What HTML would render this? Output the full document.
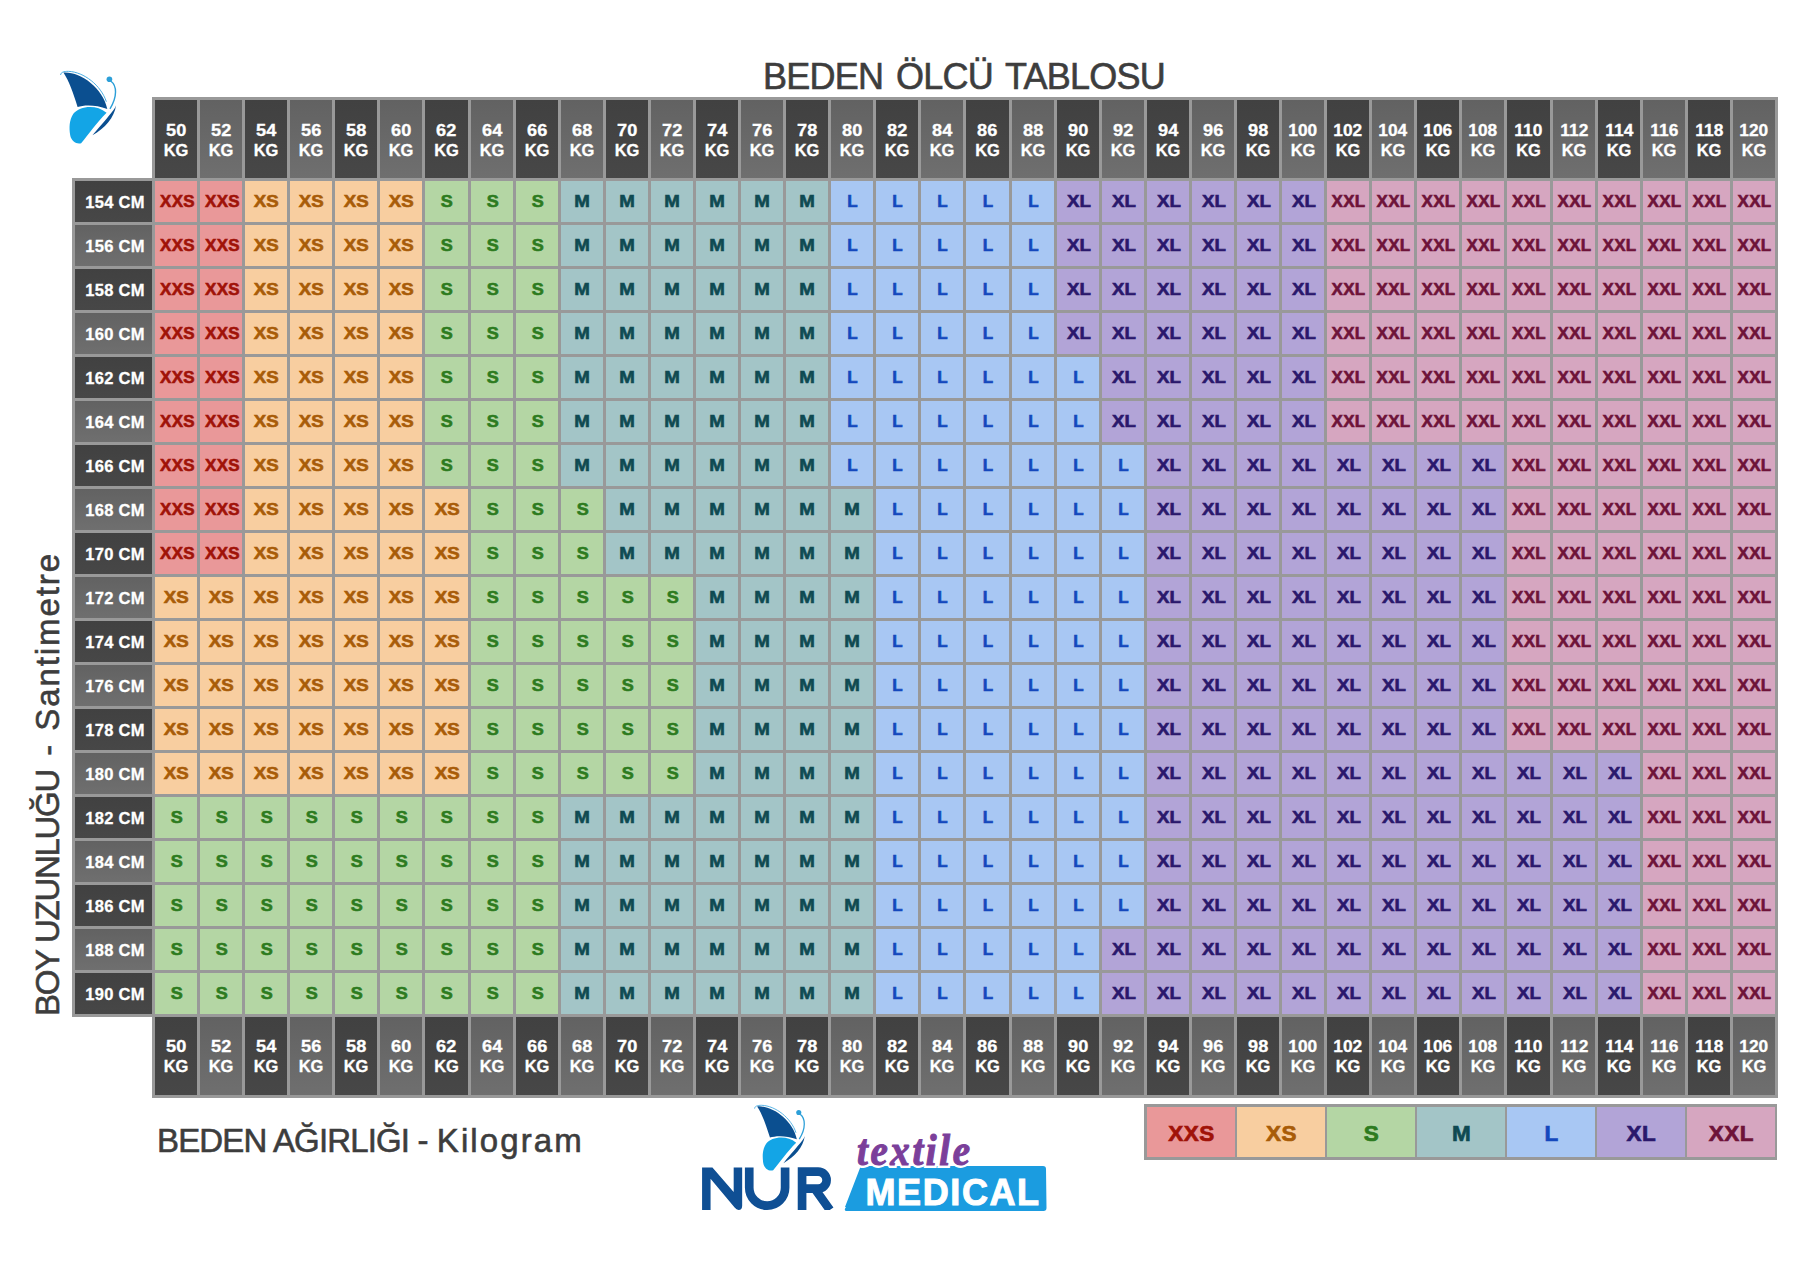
<!DOCTYPE html>
<html><head><meta charset="utf-8">
<style>
html,body{margin:0;padding:0;background:#fff;}
body{width:1800px;height:1272px;position:relative;overflow:hidden;font-family:"Liberation Sans",sans-serif;}
.g{position:absolute;background:#999999;}
.h{position:absolute;height:78px;box-sizing:border-box;padding-top:21px;color:#fff;font-weight:bold;font-size:16.5px;line-height:19.7px;-webkit-text-stroke:0.3px #fff;text-align:center;}
.h b{display:inline-block;transform:scaleX(1.1);font-weight:bold;}
.h b.w3{transform:scaleX(1.05);}
.hd{background:linear-gradient(#414141,#474747);}
.hm{background:linear-gradient(#626262,#6f6f6f);}
.rl{position:absolute;left:75px;width:77px;height:41px;line-height:42px;padding-left:3px;box-sizing:border-box;letter-spacing:0.3px;color:#fff;font-weight:bold;font-size:16.5px;-webkit-text-stroke:0.3px #fff;text-align:center;}
.c{position:absolute;height:41px;line-height:42px;font-weight:bold;font-size:17px;text-align:center;padding-left:1px;box-sizing:border-box;-webkit-text-stroke:0.6px currentColor;}
.c b{display:inline-block;transform:scaleX(1.1);}
.c.s1 b,.c.s7 b{transform:none;letter-spacing:0.3px;}
.c.s3 b{transform:scaleX(1.06);}
.c.s5 b{transform:none;}
.c.s1{padding-left:3px;}
.s1{background:#e99899;color:#a01208;}
.s2{background:#f8cea0;color:#a85c08;}
.s3{background:#b4d6a4;color:#2d7b20;}
.s4{background:#a3c5c7;color:#0f4a52;}
.s5{background:#a8c7f3;color:#1448bd;}
.s6{background:#b2a4d7;color:#2a186c;}
.s7{background:#d6a6c0;color:#6e1339;}
.lg{position:absolute;top:1107px;width:87px;height:50px;line-height:53px;padding-left:1px;text-align:center;font-weight:bold;font-size:22.5px;letter-spacing:0.5px;-webkit-text-stroke:0.7px currentColor;}
.t{position:absolute;color:#3d3d3d;white-space:nowrap;-webkit-text-stroke:0.6px #3d3d3d;}
</style></head><body>
<div class="g" style="left:152px;top:97px;width:1626px;height:1001px"></div>
<div class="g" style="left:72px;top:178px;width:80px;height:839px"></div>
<div class="h hd" style="left:155px;top:100px;width:42px"><b>50</b><br>KG</div><div class="h hm" style="left:200px;top:100px;width:42px"><b>52</b><br>KG</div><div class="h hd" style="left:245px;top:100px;width:42px"><b>54</b><br>KG</div><div class="h hm" style="left:290px;top:100px;width:42px"><b>56</b><br>KG</div><div class="h hd" style="left:335px;top:100px;width:42px"><b>58</b><br>KG</div><div class="h hm" style="left:380px;top:100px;width:42px"><b>60</b><br>KG</div><div class="h hd" style="left:425px;top:100px;width:43px"><b>62</b><br>KG</div><div class="h hm" style="left:471px;top:100px;width:42px"><b>64</b><br>KG</div><div class="h hd" style="left:516px;top:100px;width:42px"><b>66</b><br>KG</div><div class="h hm" style="left:561px;top:100px;width:42px"><b>68</b><br>KG</div><div class="h hd" style="left:606px;top:100px;width:42px"><b>70</b><br>KG</div><div class="h hm" style="left:651px;top:100px;width:42px"><b>72</b><br>KG</div><div class="h hd" style="left:696px;top:100px;width:42px"><b>74</b><br>KG</div><div class="h hm" style="left:741px;top:100px;width:42px"><b>76</b><br>KG</div><div class="h hd" style="left:786px;top:100px;width:42px"><b>78</b><br>KG</div><div class="h hm" style="left:831px;top:100px;width:42px"><b>80</b><br>KG</div><div class="h hd" style="left:876px;top:100px;width:42px"><b>82</b><br>KG</div><div class="h hm" style="left:921px;top:100px;width:42px"><b>84</b><br>KG</div><div class="h hd" style="left:966px;top:100px;width:43px"><b>86</b><br>KG</div><div class="h hm" style="left:1012px;top:100px;width:42px"><b>88</b><br>KG</div><div class="h hd" style="left:1057px;top:100px;width:42px"><b>90</b><br>KG</div><div class="h hm" style="left:1102px;top:100px;width:42px"><b>92</b><br>KG</div><div class="h hd" style="left:1147px;top:100px;width:42px"><b>94</b><br>KG</div><div class="h hm" style="left:1192px;top:100px;width:42px"><b>96</b><br>KG</div><div class="h hd" style="left:1237px;top:100px;width:42px"><b>98</b><br>KG</div><div class="h hm" style="left:1282px;top:100px;width:42px"><b class=w3>100</b><br>KG</div><div class="h hd" style="left:1327px;top:100px;width:42px"><b class=w3>102</b><br>KG</div><div class="h hm" style="left:1372px;top:100px;width:42px"><b class=w3>104</b><br>KG</div><div class="h hd" style="left:1417px;top:100px;width:42px"><b class=w3>106</b><br>KG</div><div class="h hm" style="left:1462px;top:100px;width:42px"><b class=w3>108</b><br>KG</div><div class="h hd" style="left:1507px;top:100px;width:43px"><b class=w3>110</b><br>KG</div><div class="h hm" style="left:1553px;top:100px;width:42px"><b class=w3>112</b><br>KG</div><div class="h hd" style="left:1598px;top:100px;width:42px"><b class=w3>114</b><br>KG</div><div class="h hm" style="left:1643px;top:100px;width:42px"><b class=w3>116</b><br>KG</div><div class="h hd" style="left:1688px;top:100px;width:42px"><b class=w3>118</b><br>KG</div><div class="h hm" style="left:1733px;top:100px;width:42px"><b class=w3>120</b><br>KG</div><div class="h hd" style="left:155px;top:1017px;width:42px;padding-top:20px"><b>50</b><br>KG</div><div class="h hm" style="left:200px;top:1017px;width:42px;padding-top:20px"><b>52</b><br>KG</div><div class="h hd" style="left:245px;top:1017px;width:42px;padding-top:20px"><b>54</b><br>KG</div><div class="h hm" style="left:290px;top:1017px;width:42px;padding-top:20px"><b>56</b><br>KG</div><div class="h hd" style="left:335px;top:1017px;width:42px;padding-top:20px"><b>58</b><br>KG</div><div class="h hm" style="left:380px;top:1017px;width:42px;padding-top:20px"><b>60</b><br>KG</div><div class="h hd" style="left:425px;top:1017px;width:43px;padding-top:20px"><b>62</b><br>KG</div><div class="h hm" style="left:471px;top:1017px;width:42px;padding-top:20px"><b>64</b><br>KG</div><div class="h hd" style="left:516px;top:1017px;width:42px;padding-top:20px"><b>66</b><br>KG</div><div class="h hm" style="left:561px;top:1017px;width:42px;padding-top:20px"><b>68</b><br>KG</div><div class="h hd" style="left:606px;top:1017px;width:42px;padding-top:20px"><b>70</b><br>KG</div><div class="h hm" style="left:651px;top:1017px;width:42px;padding-top:20px"><b>72</b><br>KG</div><div class="h hd" style="left:696px;top:1017px;width:42px;padding-top:20px"><b>74</b><br>KG</div><div class="h hm" style="left:741px;top:1017px;width:42px;padding-top:20px"><b>76</b><br>KG</div><div class="h hd" style="left:786px;top:1017px;width:42px;padding-top:20px"><b>78</b><br>KG</div><div class="h hm" style="left:831px;top:1017px;width:42px;padding-top:20px"><b>80</b><br>KG</div><div class="h hd" style="left:876px;top:1017px;width:42px;padding-top:20px"><b>82</b><br>KG</div><div class="h hm" style="left:921px;top:1017px;width:42px;padding-top:20px"><b>84</b><br>KG</div><div class="h hd" style="left:966px;top:1017px;width:43px;padding-top:20px"><b>86</b><br>KG</div><div class="h hm" style="left:1012px;top:1017px;width:42px;padding-top:20px"><b>88</b><br>KG</div><div class="h hd" style="left:1057px;top:1017px;width:42px;padding-top:20px"><b>90</b><br>KG</div><div class="h hm" style="left:1102px;top:1017px;width:42px;padding-top:20px"><b>92</b><br>KG</div><div class="h hd" style="left:1147px;top:1017px;width:42px;padding-top:20px"><b>94</b><br>KG</div><div class="h hm" style="left:1192px;top:1017px;width:42px;padding-top:20px"><b>96</b><br>KG</div><div class="h hd" style="left:1237px;top:1017px;width:42px;padding-top:20px"><b>98</b><br>KG</div><div class="h hm" style="left:1282px;top:1017px;width:42px;padding-top:20px"><b class=w3>100</b><br>KG</div><div class="h hd" style="left:1327px;top:1017px;width:42px;padding-top:20px"><b class=w3>102</b><br>KG</div><div class="h hm" style="left:1372px;top:1017px;width:42px;padding-top:20px"><b class=w3>104</b><br>KG</div><div class="h hd" style="left:1417px;top:1017px;width:42px;padding-top:20px"><b class=w3>106</b><br>KG</div><div class="h hm" style="left:1462px;top:1017px;width:42px;padding-top:20px"><b class=w3>108</b><br>KG</div><div class="h hd" style="left:1507px;top:1017px;width:43px;padding-top:20px"><b class=w3>110</b><br>KG</div><div class="h hm" style="left:1553px;top:1017px;width:42px;padding-top:20px"><b class=w3>112</b><br>KG</div><div class="h hd" style="left:1598px;top:1017px;width:42px;padding-top:20px"><b class=w3>114</b><br>KG</div><div class="h hm" style="left:1643px;top:1017px;width:42px;padding-top:20px"><b class=w3>116</b><br>KG</div><div class="h hd" style="left:1688px;top:1017px;width:42px;padding-top:20px"><b class=w3>118</b><br>KG</div><div class="h hm" style="left:1733px;top:1017px;width:42px;padding-top:20px"><b class=w3>120</b><br>KG</div><div class="rl hd" style="top:181px">154 CM</div><div class="c s1" style="left:155px;top:181px;width:42px"><b>XXS</b></div><div class="c s1" style="left:200px;top:181px;width:42px"><b>XXS</b></div><div class="c s2" style="left:245px;top:181px;width:42px"><b>XS</b></div><div class="c s2" style="left:290px;top:181px;width:42px"><b>XS</b></div><div class="c s2" style="left:335px;top:181px;width:42px"><b>XS</b></div><div class="c s2" style="left:380px;top:181px;width:42px"><b>XS</b></div><div class="c s3" style="left:425px;top:181px;width:43px"><b>S</b></div><div class="c s3" style="left:471px;top:181px;width:42px"><b>S</b></div><div class="c s3" style="left:516px;top:181px;width:42px"><b>S</b></div><div class="c s4" style="left:561px;top:181px;width:42px"><b>M</b></div><div class="c s4" style="left:606px;top:181px;width:42px"><b>M</b></div><div class="c s4" style="left:651px;top:181px;width:42px"><b>M</b></div><div class="c s4" style="left:696px;top:181px;width:42px"><b>M</b></div><div class="c s4" style="left:741px;top:181px;width:42px"><b>M</b></div><div class="c s4" style="left:786px;top:181px;width:42px"><b>M</b></div><div class="c s5" style="left:831px;top:181px;width:42px"><b>L</b></div><div class="c s5" style="left:876px;top:181px;width:42px"><b>L</b></div><div class="c s5" style="left:921px;top:181px;width:42px"><b>L</b></div><div class="c s5" style="left:966px;top:181px;width:43px"><b>L</b></div><div class="c s5" style="left:1012px;top:181px;width:42px"><b>L</b></div><div class="c s6" style="left:1057px;top:181px;width:42px"><b>XL</b></div><div class="c s6" style="left:1102px;top:181px;width:42px"><b>XL</b></div><div class="c s6" style="left:1147px;top:181px;width:42px"><b>XL</b></div><div class="c s6" style="left:1192px;top:181px;width:42px"><b>XL</b></div><div class="c s6" style="left:1237px;top:181px;width:42px"><b>XL</b></div><div class="c s6" style="left:1282px;top:181px;width:42px"><b>XL</b></div><div class="c s7" style="left:1327px;top:181px;width:42px"><b>XXL</b></div><div class="c s7" style="left:1372px;top:181px;width:42px"><b>XXL</b></div><div class="c s7" style="left:1417px;top:181px;width:42px"><b>XXL</b></div><div class="c s7" style="left:1462px;top:181px;width:42px"><b>XXL</b></div><div class="c s7" style="left:1507px;top:181px;width:43px"><b>XXL</b></div><div class="c s7" style="left:1553px;top:181px;width:42px"><b>XXL</b></div><div class="c s7" style="left:1598px;top:181px;width:42px"><b>XXL</b></div><div class="c s7" style="left:1643px;top:181px;width:42px"><b>XXL</b></div><div class="c s7" style="left:1688px;top:181px;width:42px"><b>XXL</b></div><div class="c s7" style="left:1733px;top:181px;width:42px"><b>XXL</b></div><div class="rl hm" style="top:225px">156 CM</div><div class="c s1" style="left:155px;top:225px;width:42px"><b>XXS</b></div><div class="c s1" style="left:200px;top:225px;width:42px"><b>XXS</b></div><div class="c s2" style="left:245px;top:225px;width:42px"><b>XS</b></div><div class="c s2" style="left:290px;top:225px;width:42px"><b>XS</b></div><div class="c s2" style="left:335px;top:225px;width:42px"><b>XS</b></div><div class="c s2" style="left:380px;top:225px;width:42px"><b>XS</b></div><div class="c s3" style="left:425px;top:225px;width:43px"><b>S</b></div><div class="c s3" style="left:471px;top:225px;width:42px"><b>S</b></div><div class="c s3" style="left:516px;top:225px;width:42px"><b>S</b></div><div class="c s4" style="left:561px;top:225px;width:42px"><b>M</b></div><div class="c s4" style="left:606px;top:225px;width:42px"><b>M</b></div><div class="c s4" style="left:651px;top:225px;width:42px"><b>M</b></div><div class="c s4" style="left:696px;top:225px;width:42px"><b>M</b></div><div class="c s4" style="left:741px;top:225px;width:42px"><b>M</b></div><div class="c s4" style="left:786px;top:225px;width:42px"><b>M</b></div><div class="c s5" style="left:831px;top:225px;width:42px"><b>L</b></div><div class="c s5" style="left:876px;top:225px;width:42px"><b>L</b></div><div class="c s5" style="left:921px;top:225px;width:42px"><b>L</b></div><div class="c s5" style="left:966px;top:225px;width:43px"><b>L</b></div><div class="c s5" style="left:1012px;top:225px;width:42px"><b>L</b></div><div class="c s6" style="left:1057px;top:225px;width:42px"><b>XL</b></div><div class="c s6" style="left:1102px;top:225px;width:42px"><b>XL</b></div><div class="c s6" style="left:1147px;top:225px;width:42px"><b>XL</b></div><div class="c s6" style="left:1192px;top:225px;width:42px"><b>XL</b></div><div class="c s6" style="left:1237px;top:225px;width:42px"><b>XL</b></div><div class="c s6" style="left:1282px;top:225px;width:42px"><b>XL</b></div><div class="c s7" style="left:1327px;top:225px;width:42px"><b>XXL</b></div><div class="c s7" style="left:1372px;top:225px;width:42px"><b>XXL</b></div><div class="c s7" style="left:1417px;top:225px;width:42px"><b>XXL</b></div><div class="c s7" style="left:1462px;top:225px;width:42px"><b>XXL</b></div><div class="c s7" style="left:1507px;top:225px;width:43px"><b>XXL</b></div><div class="c s7" style="left:1553px;top:225px;width:42px"><b>XXL</b></div><div class="c s7" style="left:1598px;top:225px;width:42px"><b>XXL</b></div><div class="c s7" style="left:1643px;top:225px;width:42px"><b>XXL</b></div><div class="c s7" style="left:1688px;top:225px;width:42px"><b>XXL</b></div><div class="c s7" style="left:1733px;top:225px;width:42px"><b>XXL</b></div><div class="rl hd" style="top:269px">158 CM</div><div class="c s1" style="left:155px;top:269px;width:42px"><b>XXS</b></div><div class="c s1" style="left:200px;top:269px;width:42px"><b>XXS</b></div><div class="c s2" style="left:245px;top:269px;width:42px"><b>XS</b></div><div class="c s2" style="left:290px;top:269px;width:42px"><b>XS</b></div><div class="c s2" style="left:335px;top:269px;width:42px"><b>XS</b></div><div class="c s2" style="left:380px;top:269px;width:42px"><b>XS</b></div><div class="c s3" style="left:425px;top:269px;width:43px"><b>S</b></div><div class="c s3" style="left:471px;top:269px;width:42px"><b>S</b></div><div class="c s3" style="left:516px;top:269px;width:42px"><b>S</b></div><div class="c s4" style="left:561px;top:269px;width:42px"><b>M</b></div><div class="c s4" style="left:606px;top:269px;width:42px"><b>M</b></div><div class="c s4" style="left:651px;top:269px;width:42px"><b>M</b></div><div class="c s4" style="left:696px;top:269px;width:42px"><b>M</b></div><div class="c s4" style="left:741px;top:269px;width:42px"><b>M</b></div><div class="c s4" style="left:786px;top:269px;width:42px"><b>M</b></div><div class="c s5" style="left:831px;top:269px;width:42px"><b>L</b></div><div class="c s5" style="left:876px;top:269px;width:42px"><b>L</b></div><div class="c s5" style="left:921px;top:269px;width:42px"><b>L</b></div><div class="c s5" style="left:966px;top:269px;width:43px"><b>L</b></div><div class="c s5" style="left:1012px;top:269px;width:42px"><b>L</b></div><div class="c s6" style="left:1057px;top:269px;width:42px"><b>XL</b></div><div class="c s6" style="left:1102px;top:269px;width:42px"><b>XL</b></div><div class="c s6" style="left:1147px;top:269px;width:42px"><b>XL</b></div><div class="c s6" style="left:1192px;top:269px;width:42px"><b>XL</b></div><div class="c s6" style="left:1237px;top:269px;width:42px"><b>XL</b></div><div class="c s6" style="left:1282px;top:269px;width:42px"><b>XL</b></div><div class="c s7" style="left:1327px;top:269px;width:42px"><b>XXL</b></div><div class="c s7" style="left:1372px;top:269px;width:42px"><b>XXL</b></div><div class="c s7" style="left:1417px;top:269px;width:42px"><b>XXL</b></div><div class="c s7" style="left:1462px;top:269px;width:42px"><b>XXL</b></div><div class="c s7" style="left:1507px;top:269px;width:43px"><b>XXL</b></div><div class="c s7" style="left:1553px;top:269px;width:42px"><b>XXL</b></div><div class="c s7" style="left:1598px;top:269px;width:42px"><b>XXL</b></div><div class="c s7" style="left:1643px;top:269px;width:42px"><b>XXL</b></div><div class="c s7" style="left:1688px;top:269px;width:42px"><b>XXL</b></div><div class="c s7" style="left:1733px;top:269px;width:42px"><b>XXL</b></div><div class="rl hm" style="top:313px">160 CM</div><div class="c s1" style="left:155px;top:313px;width:42px"><b>XXS</b></div><div class="c s1" style="left:200px;top:313px;width:42px"><b>XXS</b></div><div class="c s2" style="left:245px;top:313px;width:42px"><b>XS</b></div><div class="c s2" style="left:290px;top:313px;width:42px"><b>XS</b></div><div class="c s2" style="left:335px;top:313px;width:42px"><b>XS</b></div><div class="c s2" style="left:380px;top:313px;width:42px"><b>XS</b></div><div class="c s3" style="left:425px;top:313px;width:43px"><b>S</b></div><div class="c s3" style="left:471px;top:313px;width:42px"><b>S</b></div><div class="c s3" style="left:516px;top:313px;width:42px"><b>S</b></div><div class="c s4" style="left:561px;top:313px;width:42px"><b>M</b></div><div class="c s4" style="left:606px;top:313px;width:42px"><b>M</b></div><div class="c s4" style="left:651px;top:313px;width:42px"><b>M</b></div><div class="c s4" style="left:696px;top:313px;width:42px"><b>M</b></div><div class="c s4" style="left:741px;top:313px;width:42px"><b>M</b></div><div class="c s4" style="left:786px;top:313px;width:42px"><b>M</b></div><div class="c s5" style="left:831px;top:313px;width:42px"><b>L</b></div><div class="c s5" style="left:876px;top:313px;width:42px"><b>L</b></div><div class="c s5" style="left:921px;top:313px;width:42px"><b>L</b></div><div class="c s5" style="left:966px;top:313px;width:43px"><b>L</b></div><div class="c s5" style="left:1012px;top:313px;width:42px"><b>L</b></div><div class="c s6" style="left:1057px;top:313px;width:42px"><b>XL</b></div><div class="c s6" style="left:1102px;top:313px;width:42px"><b>XL</b></div><div class="c s6" style="left:1147px;top:313px;width:42px"><b>XL</b></div><div class="c s6" style="left:1192px;top:313px;width:42px"><b>XL</b></div><div class="c s6" style="left:1237px;top:313px;width:42px"><b>XL</b></div><div class="c s6" style="left:1282px;top:313px;width:42px"><b>XL</b></div><div class="c s7" style="left:1327px;top:313px;width:42px"><b>XXL</b></div><div class="c s7" style="left:1372px;top:313px;width:42px"><b>XXL</b></div><div class="c s7" style="left:1417px;top:313px;width:42px"><b>XXL</b></div><div class="c s7" style="left:1462px;top:313px;width:42px"><b>XXL</b></div><div class="c s7" style="left:1507px;top:313px;width:43px"><b>XXL</b></div><div class="c s7" style="left:1553px;top:313px;width:42px"><b>XXL</b></div><div class="c s7" style="left:1598px;top:313px;width:42px"><b>XXL</b></div><div class="c s7" style="left:1643px;top:313px;width:42px"><b>XXL</b></div><div class="c s7" style="left:1688px;top:313px;width:42px"><b>XXL</b></div><div class="c s7" style="left:1733px;top:313px;width:42px"><b>XXL</b></div><div class="rl hd" style="top:357px">162 CM</div><div class="c s1" style="left:155px;top:357px;width:42px"><b>XXS</b></div><div class="c s1" style="left:200px;top:357px;width:42px"><b>XXS</b></div><div class="c s2" style="left:245px;top:357px;width:42px"><b>XS</b></div><div class="c s2" style="left:290px;top:357px;width:42px"><b>XS</b></div><div class="c s2" style="left:335px;top:357px;width:42px"><b>XS</b></div><div class="c s2" style="left:380px;top:357px;width:42px"><b>XS</b></div><div class="c s3" style="left:425px;top:357px;width:43px"><b>S</b></div><div class="c s3" style="left:471px;top:357px;width:42px"><b>S</b></div><div class="c s3" style="left:516px;top:357px;width:42px"><b>S</b></div><div class="c s4" style="left:561px;top:357px;width:42px"><b>M</b></div><div class="c s4" style="left:606px;top:357px;width:42px"><b>M</b></div><div class="c s4" style="left:651px;top:357px;width:42px"><b>M</b></div><div class="c s4" style="left:696px;top:357px;width:42px"><b>M</b></div><div class="c s4" style="left:741px;top:357px;width:42px"><b>M</b></div><div class="c s4" style="left:786px;top:357px;width:42px"><b>M</b></div><div class="c s5" style="left:831px;top:357px;width:42px"><b>L</b></div><div class="c s5" style="left:876px;top:357px;width:42px"><b>L</b></div><div class="c s5" style="left:921px;top:357px;width:42px"><b>L</b></div><div class="c s5" style="left:966px;top:357px;width:43px"><b>L</b></div><div class="c s5" style="left:1012px;top:357px;width:42px"><b>L</b></div><div class="c s5" style="left:1057px;top:357px;width:42px"><b>L</b></div><div class="c s6" style="left:1102px;top:357px;width:42px"><b>XL</b></div><div class="c s6" style="left:1147px;top:357px;width:42px"><b>XL</b></div><div class="c s6" style="left:1192px;top:357px;width:42px"><b>XL</b></div><div class="c s6" style="left:1237px;top:357px;width:42px"><b>XL</b></div><div class="c s6" style="left:1282px;top:357px;width:42px"><b>XL</b></div><div class="c s7" style="left:1327px;top:357px;width:42px"><b>XXL</b></div><div class="c s7" style="left:1372px;top:357px;width:42px"><b>XXL</b></div><div class="c s7" style="left:1417px;top:357px;width:42px"><b>XXL</b></div><div class="c s7" style="left:1462px;top:357px;width:42px"><b>XXL</b></div><div class="c s7" style="left:1507px;top:357px;width:43px"><b>XXL</b></div><div class="c s7" style="left:1553px;top:357px;width:42px"><b>XXL</b></div><div class="c s7" style="left:1598px;top:357px;width:42px"><b>XXL</b></div><div class="c s7" style="left:1643px;top:357px;width:42px"><b>XXL</b></div><div class="c s7" style="left:1688px;top:357px;width:42px"><b>XXL</b></div><div class="c s7" style="left:1733px;top:357px;width:42px"><b>XXL</b></div><div class="rl hm" style="top:401px">164 CM</div><div class="c s1" style="left:155px;top:401px;width:42px"><b>XXS</b></div><div class="c s1" style="left:200px;top:401px;width:42px"><b>XXS</b></div><div class="c s2" style="left:245px;top:401px;width:42px"><b>XS</b></div><div class="c s2" style="left:290px;top:401px;width:42px"><b>XS</b></div><div class="c s2" style="left:335px;top:401px;width:42px"><b>XS</b></div><div class="c s2" style="left:380px;top:401px;width:42px"><b>XS</b></div><div class="c s3" style="left:425px;top:401px;width:43px"><b>S</b></div><div class="c s3" style="left:471px;top:401px;width:42px"><b>S</b></div><div class="c s3" style="left:516px;top:401px;width:42px"><b>S</b></div><div class="c s4" style="left:561px;top:401px;width:42px"><b>M</b></div><div class="c s4" style="left:606px;top:401px;width:42px"><b>M</b></div><div class="c s4" style="left:651px;top:401px;width:42px"><b>M</b></div><div class="c s4" style="left:696px;top:401px;width:42px"><b>M</b></div><div class="c s4" style="left:741px;top:401px;width:42px"><b>M</b></div><div class="c s4" style="left:786px;top:401px;width:42px"><b>M</b></div><div class="c s5" style="left:831px;top:401px;width:42px"><b>L</b></div><div class="c s5" style="left:876px;top:401px;width:42px"><b>L</b></div><div class="c s5" style="left:921px;top:401px;width:42px"><b>L</b></div><div class="c s5" style="left:966px;top:401px;width:43px"><b>L</b></div><div class="c s5" style="left:1012px;top:401px;width:42px"><b>L</b></div><div class="c s5" style="left:1057px;top:401px;width:42px"><b>L</b></div><div class="c s6" style="left:1102px;top:401px;width:42px"><b>XL</b></div><div class="c s6" style="left:1147px;top:401px;width:42px"><b>XL</b></div><div class="c s6" style="left:1192px;top:401px;width:42px"><b>XL</b></div><div class="c s6" style="left:1237px;top:401px;width:42px"><b>XL</b></div><div class="c s6" style="left:1282px;top:401px;width:42px"><b>XL</b></div><div class="c s7" style="left:1327px;top:401px;width:42px"><b>XXL</b></div><div class="c s7" style="left:1372px;top:401px;width:42px"><b>XXL</b></div><div class="c s7" style="left:1417px;top:401px;width:42px"><b>XXL</b></div><div class="c s7" style="left:1462px;top:401px;width:42px"><b>XXL</b></div><div class="c s7" style="left:1507px;top:401px;width:43px"><b>XXL</b></div><div class="c s7" style="left:1553px;top:401px;width:42px"><b>XXL</b></div><div class="c s7" style="left:1598px;top:401px;width:42px"><b>XXL</b></div><div class="c s7" style="left:1643px;top:401px;width:42px"><b>XXL</b></div><div class="c s7" style="left:1688px;top:401px;width:42px"><b>XXL</b></div><div class="c s7" style="left:1733px;top:401px;width:42px"><b>XXL</b></div><div class="rl hd" style="top:445px">166 CM</div><div class="c s1" style="left:155px;top:445px;width:42px"><b>XXS</b></div><div class="c s1" style="left:200px;top:445px;width:42px"><b>XXS</b></div><div class="c s2" style="left:245px;top:445px;width:42px"><b>XS</b></div><div class="c s2" style="left:290px;top:445px;width:42px"><b>XS</b></div><div class="c s2" style="left:335px;top:445px;width:42px"><b>XS</b></div><div class="c s2" style="left:380px;top:445px;width:42px"><b>XS</b></div><div class="c s3" style="left:425px;top:445px;width:43px"><b>S</b></div><div class="c s3" style="left:471px;top:445px;width:42px"><b>S</b></div><div class="c s3" style="left:516px;top:445px;width:42px"><b>S</b></div><div class="c s4" style="left:561px;top:445px;width:42px"><b>M</b></div><div class="c s4" style="left:606px;top:445px;width:42px"><b>M</b></div><div class="c s4" style="left:651px;top:445px;width:42px"><b>M</b></div><div class="c s4" style="left:696px;top:445px;width:42px"><b>M</b></div><div class="c s4" style="left:741px;top:445px;width:42px"><b>M</b></div><div class="c s4" style="left:786px;top:445px;width:42px"><b>M</b></div><div class="c s5" style="left:831px;top:445px;width:42px"><b>L</b></div><div class="c s5" style="left:876px;top:445px;width:42px"><b>L</b></div><div class="c s5" style="left:921px;top:445px;width:42px"><b>L</b></div><div class="c s5" style="left:966px;top:445px;width:43px"><b>L</b></div><div class="c s5" style="left:1012px;top:445px;width:42px"><b>L</b></div><div class="c s5" style="left:1057px;top:445px;width:42px"><b>L</b></div><div class="c s5" style="left:1102px;top:445px;width:42px"><b>L</b></div><div class="c s6" style="left:1147px;top:445px;width:42px"><b>XL</b></div><div class="c s6" style="left:1192px;top:445px;width:42px"><b>XL</b></div><div class="c s6" style="left:1237px;top:445px;width:42px"><b>XL</b></div><div class="c s6" style="left:1282px;top:445px;width:42px"><b>XL</b></div><div class="c s6" style="left:1327px;top:445px;width:42px"><b>XL</b></div><div class="c s6" style="left:1372px;top:445px;width:42px"><b>XL</b></div><div class="c s6" style="left:1417px;top:445px;width:42px"><b>XL</b></div><div class="c s6" style="left:1462px;top:445px;width:42px"><b>XL</b></div><div class="c s7" style="left:1507px;top:445px;width:43px"><b>XXL</b></div><div class="c s7" style="left:1553px;top:445px;width:42px"><b>XXL</b></div><div class="c s7" style="left:1598px;top:445px;width:42px"><b>XXL</b></div><div class="c s7" style="left:1643px;top:445px;width:42px"><b>XXL</b></div><div class="c s7" style="left:1688px;top:445px;width:42px"><b>XXL</b></div><div class="c s7" style="left:1733px;top:445px;width:42px"><b>XXL</b></div><div class="rl hm" style="top:489px">168 CM</div><div class="c s1" style="left:155px;top:489px;width:42px"><b>XXS</b></div><div class="c s1" style="left:200px;top:489px;width:42px"><b>XXS</b></div><div class="c s2" style="left:245px;top:489px;width:42px"><b>XS</b></div><div class="c s2" style="left:290px;top:489px;width:42px"><b>XS</b></div><div class="c s2" style="left:335px;top:489px;width:42px"><b>XS</b></div><div class="c s2" style="left:380px;top:489px;width:42px"><b>XS</b></div><div class="c s2" style="left:425px;top:489px;width:43px"><b>XS</b></div><div class="c s3" style="left:471px;top:489px;width:42px"><b>S</b></div><div class="c s3" style="left:516px;top:489px;width:42px"><b>S</b></div><div class="c s3" style="left:561px;top:489px;width:42px"><b>S</b></div><div class="c s4" style="left:606px;top:489px;width:42px"><b>M</b></div><div class="c s4" style="left:651px;top:489px;width:42px"><b>M</b></div><div class="c s4" style="left:696px;top:489px;width:42px"><b>M</b></div><div class="c s4" style="left:741px;top:489px;width:42px"><b>M</b></div><div class="c s4" style="left:786px;top:489px;width:42px"><b>M</b></div><div class="c s4" style="left:831px;top:489px;width:42px"><b>M</b></div><div class="c s5" style="left:876px;top:489px;width:42px"><b>L</b></div><div class="c s5" style="left:921px;top:489px;width:42px"><b>L</b></div><div class="c s5" style="left:966px;top:489px;width:43px"><b>L</b></div><div class="c s5" style="left:1012px;top:489px;width:42px"><b>L</b></div><div class="c s5" style="left:1057px;top:489px;width:42px"><b>L</b></div><div class="c s5" style="left:1102px;top:489px;width:42px"><b>L</b></div><div class="c s6" style="left:1147px;top:489px;width:42px"><b>XL</b></div><div class="c s6" style="left:1192px;top:489px;width:42px"><b>XL</b></div><div class="c s6" style="left:1237px;top:489px;width:42px"><b>XL</b></div><div class="c s6" style="left:1282px;top:489px;width:42px"><b>XL</b></div><div class="c s6" style="left:1327px;top:489px;width:42px"><b>XL</b></div><div class="c s6" style="left:1372px;top:489px;width:42px"><b>XL</b></div><div class="c s6" style="left:1417px;top:489px;width:42px"><b>XL</b></div><div class="c s6" style="left:1462px;top:489px;width:42px"><b>XL</b></div><div class="c s7" style="left:1507px;top:489px;width:43px"><b>XXL</b></div><div class="c s7" style="left:1553px;top:489px;width:42px"><b>XXL</b></div><div class="c s7" style="left:1598px;top:489px;width:42px"><b>XXL</b></div><div class="c s7" style="left:1643px;top:489px;width:42px"><b>XXL</b></div><div class="c s7" style="left:1688px;top:489px;width:42px"><b>XXL</b></div><div class="c s7" style="left:1733px;top:489px;width:42px"><b>XXL</b></div><div class="rl hd" style="top:533px">170 CM</div><div class="c s1" style="left:155px;top:533px;width:42px"><b>XXS</b></div><div class="c s1" style="left:200px;top:533px;width:42px"><b>XXS</b></div><div class="c s2" style="left:245px;top:533px;width:42px"><b>XS</b></div><div class="c s2" style="left:290px;top:533px;width:42px"><b>XS</b></div><div class="c s2" style="left:335px;top:533px;width:42px"><b>XS</b></div><div class="c s2" style="left:380px;top:533px;width:42px"><b>XS</b></div><div class="c s2" style="left:425px;top:533px;width:43px"><b>XS</b></div><div class="c s3" style="left:471px;top:533px;width:42px"><b>S</b></div><div class="c s3" style="left:516px;top:533px;width:42px"><b>S</b></div><div class="c s3" style="left:561px;top:533px;width:42px"><b>S</b></div><div class="c s4" style="left:606px;top:533px;width:42px"><b>M</b></div><div class="c s4" style="left:651px;top:533px;width:42px"><b>M</b></div><div class="c s4" style="left:696px;top:533px;width:42px"><b>M</b></div><div class="c s4" style="left:741px;top:533px;width:42px"><b>M</b></div><div class="c s4" style="left:786px;top:533px;width:42px"><b>M</b></div><div class="c s4" style="left:831px;top:533px;width:42px"><b>M</b></div><div class="c s5" style="left:876px;top:533px;width:42px"><b>L</b></div><div class="c s5" style="left:921px;top:533px;width:42px"><b>L</b></div><div class="c s5" style="left:966px;top:533px;width:43px"><b>L</b></div><div class="c s5" style="left:1012px;top:533px;width:42px"><b>L</b></div><div class="c s5" style="left:1057px;top:533px;width:42px"><b>L</b></div><div class="c s5" style="left:1102px;top:533px;width:42px"><b>L</b></div><div class="c s6" style="left:1147px;top:533px;width:42px"><b>XL</b></div><div class="c s6" style="left:1192px;top:533px;width:42px"><b>XL</b></div><div class="c s6" style="left:1237px;top:533px;width:42px"><b>XL</b></div><div class="c s6" style="left:1282px;top:533px;width:42px"><b>XL</b></div><div class="c s6" style="left:1327px;top:533px;width:42px"><b>XL</b></div><div class="c s6" style="left:1372px;top:533px;width:42px"><b>XL</b></div><div class="c s6" style="left:1417px;top:533px;width:42px"><b>XL</b></div><div class="c s6" style="left:1462px;top:533px;width:42px"><b>XL</b></div><div class="c s7" style="left:1507px;top:533px;width:43px"><b>XXL</b></div><div class="c s7" style="left:1553px;top:533px;width:42px"><b>XXL</b></div><div class="c s7" style="left:1598px;top:533px;width:42px"><b>XXL</b></div><div class="c s7" style="left:1643px;top:533px;width:42px"><b>XXL</b></div><div class="c s7" style="left:1688px;top:533px;width:42px"><b>XXL</b></div><div class="c s7" style="left:1733px;top:533px;width:42px"><b>XXL</b></div><div class="rl hm" style="top:577px">172 CM</div><div class="c s2" style="left:155px;top:577px;width:42px"><b>XS</b></div><div class="c s2" style="left:200px;top:577px;width:42px"><b>XS</b></div><div class="c s2" style="left:245px;top:577px;width:42px"><b>XS</b></div><div class="c s2" style="left:290px;top:577px;width:42px"><b>XS</b></div><div class="c s2" style="left:335px;top:577px;width:42px"><b>XS</b></div><div class="c s2" style="left:380px;top:577px;width:42px"><b>XS</b></div><div class="c s2" style="left:425px;top:577px;width:43px"><b>XS</b></div><div class="c s3" style="left:471px;top:577px;width:42px"><b>S</b></div><div class="c s3" style="left:516px;top:577px;width:42px"><b>S</b></div><div class="c s3" style="left:561px;top:577px;width:42px"><b>S</b></div><div class="c s3" style="left:606px;top:577px;width:42px"><b>S</b></div><div class="c s3" style="left:651px;top:577px;width:42px"><b>S</b></div><div class="c s4" style="left:696px;top:577px;width:42px"><b>M</b></div><div class="c s4" style="left:741px;top:577px;width:42px"><b>M</b></div><div class="c s4" style="left:786px;top:577px;width:42px"><b>M</b></div><div class="c s4" style="left:831px;top:577px;width:42px"><b>M</b></div><div class="c s5" style="left:876px;top:577px;width:42px"><b>L</b></div><div class="c s5" style="left:921px;top:577px;width:42px"><b>L</b></div><div class="c s5" style="left:966px;top:577px;width:43px"><b>L</b></div><div class="c s5" style="left:1012px;top:577px;width:42px"><b>L</b></div><div class="c s5" style="left:1057px;top:577px;width:42px"><b>L</b></div><div class="c s5" style="left:1102px;top:577px;width:42px"><b>L</b></div><div class="c s6" style="left:1147px;top:577px;width:42px"><b>XL</b></div><div class="c s6" style="left:1192px;top:577px;width:42px"><b>XL</b></div><div class="c s6" style="left:1237px;top:577px;width:42px"><b>XL</b></div><div class="c s6" style="left:1282px;top:577px;width:42px"><b>XL</b></div><div class="c s6" style="left:1327px;top:577px;width:42px"><b>XL</b></div><div class="c s6" style="left:1372px;top:577px;width:42px"><b>XL</b></div><div class="c s6" style="left:1417px;top:577px;width:42px"><b>XL</b></div><div class="c s6" style="left:1462px;top:577px;width:42px"><b>XL</b></div><div class="c s7" style="left:1507px;top:577px;width:43px"><b>XXL</b></div><div class="c s7" style="left:1553px;top:577px;width:42px"><b>XXL</b></div><div class="c s7" style="left:1598px;top:577px;width:42px"><b>XXL</b></div><div class="c s7" style="left:1643px;top:577px;width:42px"><b>XXL</b></div><div class="c s7" style="left:1688px;top:577px;width:42px"><b>XXL</b></div><div class="c s7" style="left:1733px;top:577px;width:42px"><b>XXL</b></div><div class="rl hd" style="top:621px">174 CM</div><div class="c s2" style="left:155px;top:621px;width:42px"><b>XS</b></div><div class="c s2" style="left:200px;top:621px;width:42px"><b>XS</b></div><div class="c s2" style="left:245px;top:621px;width:42px"><b>XS</b></div><div class="c s2" style="left:290px;top:621px;width:42px"><b>XS</b></div><div class="c s2" style="left:335px;top:621px;width:42px"><b>XS</b></div><div class="c s2" style="left:380px;top:621px;width:42px"><b>XS</b></div><div class="c s2" style="left:425px;top:621px;width:43px"><b>XS</b></div><div class="c s3" style="left:471px;top:621px;width:42px"><b>S</b></div><div class="c s3" style="left:516px;top:621px;width:42px"><b>S</b></div><div class="c s3" style="left:561px;top:621px;width:42px"><b>S</b></div><div class="c s3" style="left:606px;top:621px;width:42px"><b>S</b></div><div class="c s3" style="left:651px;top:621px;width:42px"><b>S</b></div><div class="c s4" style="left:696px;top:621px;width:42px"><b>M</b></div><div class="c s4" style="left:741px;top:621px;width:42px"><b>M</b></div><div class="c s4" style="left:786px;top:621px;width:42px"><b>M</b></div><div class="c s4" style="left:831px;top:621px;width:42px"><b>M</b></div><div class="c s5" style="left:876px;top:621px;width:42px"><b>L</b></div><div class="c s5" style="left:921px;top:621px;width:42px"><b>L</b></div><div class="c s5" style="left:966px;top:621px;width:43px"><b>L</b></div><div class="c s5" style="left:1012px;top:621px;width:42px"><b>L</b></div><div class="c s5" style="left:1057px;top:621px;width:42px"><b>L</b></div><div class="c s5" style="left:1102px;top:621px;width:42px"><b>L</b></div><div class="c s6" style="left:1147px;top:621px;width:42px"><b>XL</b></div><div class="c s6" style="left:1192px;top:621px;width:42px"><b>XL</b></div><div class="c s6" style="left:1237px;top:621px;width:42px"><b>XL</b></div><div class="c s6" style="left:1282px;top:621px;width:42px"><b>XL</b></div><div class="c s6" style="left:1327px;top:621px;width:42px"><b>XL</b></div><div class="c s6" style="left:1372px;top:621px;width:42px"><b>XL</b></div><div class="c s6" style="left:1417px;top:621px;width:42px"><b>XL</b></div><div class="c s6" style="left:1462px;top:621px;width:42px"><b>XL</b></div><div class="c s7" style="left:1507px;top:621px;width:43px"><b>XXL</b></div><div class="c s7" style="left:1553px;top:621px;width:42px"><b>XXL</b></div><div class="c s7" style="left:1598px;top:621px;width:42px"><b>XXL</b></div><div class="c s7" style="left:1643px;top:621px;width:42px"><b>XXL</b></div><div class="c s7" style="left:1688px;top:621px;width:42px"><b>XXL</b></div><div class="c s7" style="left:1733px;top:621px;width:42px"><b>XXL</b></div><div class="rl hm" style="top:665px">176 CM</div><div class="c s2" style="left:155px;top:665px;width:42px"><b>XS</b></div><div class="c s2" style="left:200px;top:665px;width:42px"><b>XS</b></div><div class="c s2" style="left:245px;top:665px;width:42px"><b>XS</b></div><div class="c s2" style="left:290px;top:665px;width:42px"><b>XS</b></div><div class="c s2" style="left:335px;top:665px;width:42px"><b>XS</b></div><div class="c s2" style="left:380px;top:665px;width:42px"><b>XS</b></div><div class="c s2" style="left:425px;top:665px;width:43px"><b>XS</b></div><div class="c s3" style="left:471px;top:665px;width:42px"><b>S</b></div><div class="c s3" style="left:516px;top:665px;width:42px"><b>S</b></div><div class="c s3" style="left:561px;top:665px;width:42px"><b>S</b></div><div class="c s3" style="left:606px;top:665px;width:42px"><b>S</b></div><div class="c s3" style="left:651px;top:665px;width:42px"><b>S</b></div><div class="c s4" style="left:696px;top:665px;width:42px"><b>M</b></div><div class="c s4" style="left:741px;top:665px;width:42px"><b>M</b></div><div class="c s4" style="left:786px;top:665px;width:42px"><b>M</b></div><div class="c s4" style="left:831px;top:665px;width:42px"><b>M</b></div><div class="c s5" style="left:876px;top:665px;width:42px"><b>L</b></div><div class="c s5" style="left:921px;top:665px;width:42px"><b>L</b></div><div class="c s5" style="left:966px;top:665px;width:43px"><b>L</b></div><div class="c s5" style="left:1012px;top:665px;width:42px"><b>L</b></div><div class="c s5" style="left:1057px;top:665px;width:42px"><b>L</b></div><div class="c s5" style="left:1102px;top:665px;width:42px"><b>L</b></div><div class="c s6" style="left:1147px;top:665px;width:42px"><b>XL</b></div><div class="c s6" style="left:1192px;top:665px;width:42px"><b>XL</b></div><div class="c s6" style="left:1237px;top:665px;width:42px"><b>XL</b></div><div class="c s6" style="left:1282px;top:665px;width:42px"><b>XL</b></div><div class="c s6" style="left:1327px;top:665px;width:42px"><b>XL</b></div><div class="c s6" style="left:1372px;top:665px;width:42px"><b>XL</b></div><div class="c s6" style="left:1417px;top:665px;width:42px"><b>XL</b></div><div class="c s6" style="left:1462px;top:665px;width:42px"><b>XL</b></div><div class="c s7" style="left:1507px;top:665px;width:43px"><b>XXL</b></div><div class="c s7" style="left:1553px;top:665px;width:42px"><b>XXL</b></div><div class="c s7" style="left:1598px;top:665px;width:42px"><b>XXL</b></div><div class="c s7" style="left:1643px;top:665px;width:42px"><b>XXL</b></div><div class="c s7" style="left:1688px;top:665px;width:42px"><b>XXL</b></div><div class="c s7" style="left:1733px;top:665px;width:42px"><b>XXL</b></div><div class="rl hd" style="top:709px">178 CM</div><div class="c s2" style="left:155px;top:709px;width:42px"><b>XS</b></div><div class="c s2" style="left:200px;top:709px;width:42px"><b>XS</b></div><div class="c s2" style="left:245px;top:709px;width:42px"><b>XS</b></div><div class="c s2" style="left:290px;top:709px;width:42px"><b>XS</b></div><div class="c s2" style="left:335px;top:709px;width:42px"><b>XS</b></div><div class="c s2" style="left:380px;top:709px;width:42px"><b>XS</b></div><div class="c s2" style="left:425px;top:709px;width:43px"><b>XS</b></div><div class="c s3" style="left:471px;top:709px;width:42px"><b>S</b></div><div class="c s3" style="left:516px;top:709px;width:42px"><b>S</b></div><div class="c s3" style="left:561px;top:709px;width:42px"><b>S</b></div><div class="c s3" style="left:606px;top:709px;width:42px"><b>S</b></div><div class="c s3" style="left:651px;top:709px;width:42px"><b>S</b></div><div class="c s4" style="left:696px;top:709px;width:42px"><b>M</b></div><div class="c s4" style="left:741px;top:709px;width:42px"><b>M</b></div><div class="c s4" style="left:786px;top:709px;width:42px"><b>M</b></div><div class="c s4" style="left:831px;top:709px;width:42px"><b>M</b></div><div class="c s5" style="left:876px;top:709px;width:42px"><b>L</b></div><div class="c s5" style="left:921px;top:709px;width:42px"><b>L</b></div><div class="c s5" style="left:966px;top:709px;width:43px"><b>L</b></div><div class="c s5" style="left:1012px;top:709px;width:42px"><b>L</b></div><div class="c s5" style="left:1057px;top:709px;width:42px"><b>L</b></div><div class="c s5" style="left:1102px;top:709px;width:42px"><b>L</b></div><div class="c s6" style="left:1147px;top:709px;width:42px"><b>XL</b></div><div class="c s6" style="left:1192px;top:709px;width:42px"><b>XL</b></div><div class="c s6" style="left:1237px;top:709px;width:42px"><b>XL</b></div><div class="c s6" style="left:1282px;top:709px;width:42px"><b>XL</b></div><div class="c s6" style="left:1327px;top:709px;width:42px"><b>XL</b></div><div class="c s6" style="left:1372px;top:709px;width:42px"><b>XL</b></div><div class="c s6" style="left:1417px;top:709px;width:42px"><b>XL</b></div><div class="c s6" style="left:1462px;top:709px;width:42px"><b>XL</b></div><div class="c s7" style="left:1507px;top:709px;width:43px"><b>XXL</b></div><div class="c s7" style="left:1553px;top:709px;width:42px"><b>XXL</b></div><div class="c s7" style="left:1598px;top:709px;width:42px"><b>XXL</b></div><div class="c s7" style="left:1643px;top:709px;width:42px"><b>XXL</b></div><div class="c s7" style="left:1688px;top:709px;width:42px"><b>XXL</b></div><div class="c s7" style="left:1733px;top:709px;width:42px"><b>XXL</b></div><div class="rl hm" style="top:753px">180 CM</div><div class="c s2" style="left:155px;top:753px;width:42px"><b>XS</b></div><div class="c s2" style="left:200px;top:753px;width:42px"><b>XS</b></div><div class="c s2" style="left:245px;top:753px;width:42px"><b>XS</b></div><div class="c s2" style="left:290px;top:753px;width:42px"><b>XS</b></div><div class="c s2" style="left:335px;top:753px;width:42px"><b>XS</b></div><div class="c s2" style="left:380px;top:753px;width:42px"><b>XS</b></div><div class="c s2" style="left:425px;top:753px;width:43px"><b>XS</b></div><div class="c s3" style="left:471px;top:753px;width:42px"><b>S</b></div><div class="c s3" style="left:516px;top:753px;width:42px"><b>S</b></div><div class="c s3" style="left:561px;top:753px;width:42px"><b>S</b></div><div class="c s3" style="left:606px;top:753px;width:42px"><b>S</b></div><div class="c s3" style="left:651px;top:753px;width:42px"><b>S</b></div><div class="c s4" style="left:696px;top:753px;width:42px"><b>M</b></div><div class="c s4" style="left:741px;top:753px;width:42px"><b>M</b></div><div class="c s4" style="left:786px;top:753px;width:42px"><b>M</b></div><div class="c s4" style="left:831px;top:753px;width:42px"><b>M</b></div><div class="c s5" style="left:876px;top:753px;width:42px"><b>L</b></div><div class="c s5" style="left:921px;top:753px;width:42px"><b>L</b></div><div class="c s5" style="left:966px;top:753px;width:43px"><b>L</b></div><div class="c s5" style="left:1012px;top:753px;width:42px"><b>L</b></div><div class="c s5" style="left:1057px;top:753px;width:42px"><b>L</b></div><div class="c s5" style="left:1102px;top:753px;width:42px"><b>L</b></div><div class="c s6" style="left:1147px;top:753px;width:42px"><b>XL</b></div><div class="c s6" style="left:1192px;top:753px;width:42px"><b>XL</b></div><div class="c s6" style="left:1237px;top:753px;width:42px"><b>XL</b></div><div class="c s6" style="left:1282px;top:753px;width:42px"><b>XL</b></div><div class="c s6" style="left:1327px;top:753px;width:42px"><b>XL</b></div><div class="c s6" style="left:1372px;top:753px;width:42px"><b>XL</b></div><div class="c s6" style="left:1417px;top:753px;width:42px"><b>XL</b></div><div class="c s6" style="left:1462px;top:753px;width:42px"><b>XL</b></div><div class="c s6" style="left:1507px;top:753px;width:43px"><b>XL</b></div><div class="c s6" style="left:1553px;top:753px;width:42px"><b>XL</b></div><div class="c s6" style="left:1598px;top:753px;width:42px"><b>XL</b></div><div class="c s7" style="left:1643px;top:753px;width:42px"><b>XXL</b></div><div class="c s7" style="left:1688px;top:753px;width:42px"><b>XXL</b></div><div class="c s7" style="left:1733px;top:753px;width:42px"><b>XXL</b></div><div class="rl hd" style="top:797px">182 CM</div><div class="c s3" style="left:155px;top:797px;width:42px"><b>S</b></div><div class="c s3" style="left:200px;top:797px;width:42px"><b>S</b></div><div class="c s3" style="left:245px;top:797px;width:42px"><b>S</b></div><div class="c s3" style="left:290px;top:797px;width:42px"><b>S</b></div><div class="c s3" style="left:335px;top:797px;width:42px"><b>S</b></div><div class="c s3" style="left:380px;top:797px;width:42px"><b>S</b></div><div class="c s3" style="left:425px;top:797px;width:43px"><b>S</b></div><div class="c s3" style="left:471px;top:797px;width:42px"><b>S</b></div><div class="c s3" style="left:516px;top:797px;width:42px"><b>S</b></div><div class="c s4" style="left:561px;top:797px;width:42px"><b>M</b></div><div class="c s4" style="left:606px;top:797px;width:42px"><b>M</b></div><div class="c s4" style="left:651px;top:797px;width:42px"><b>M</b></div><div class="c s4" style="left:696px;top:797px;width:42px"><b>M</b></div><div class="c s4" style="left:741px;top:797px;width:42px"><b>M</b></div><div class="c s4" style="left:786px;top:797px;width:42px"><b>M</b></div><div class="c s4" style="left:831px;top:797px;width:42px"><b>M</b></div><div class="c s5" style="left:876px;top:797px;width:42px"><b>L</b></div><div class="c s5" style="left:921px;top:797px;width:42px"><b>L</b></div><div class="c s5" style="left:966px;top:797px;width:43px"><b>L</b></div><div class="c s5" style="left:1012px;top:797px;width:42px"><b>L</b></div><div class="c s5" style="left:1057px;top:797px;width:42px"><b>L</b></div><div class="c s5" style="left:1102px;top:797px;width:42px"><b>L</b></div><div class="c s6" style="left:1147px;top:797px;width:42px"><b>XL</b></div><div class="c s6" style="left:1192px;top:797px;width:42px"><b>XL</b></div><div class="c s6" style="left:1237px;top:797px;width:42px"><b>XL</b></div><div class="c s6" style="left:1282px;top:797px;width:42px"><b>XL</b></div><div class="c s6" style="left:1327px;top:797px;width:42px"><b>XL</b></div><div class="c s6" style="left:1372px;top:797px;width:42px"><b>XL</b></div><div class="c s6" style="left:1417px;top:797px;width:42px"><b>XL</b></div><div class="c s6" style="left:1462px;top:797px;width:42px"><b>XL</b></div><div class="c s6" style="left:1507px;top:797px;width:43px"><b>XL</b></div><div class="c s6" style="left:1553px;top:797px;width:42px"><b>XL</b></div><div class="c s6" style="left:1598px;top:797px;width:42px"><b>XL</b></div><div class="c s7" style="left:1643px;top:797px;width:42px"><b>XXL</b></div><div class="c s7" style="left:1688px;top:797px;width:42px"><b>XXL</b></div><div class="c s7" style="left:1733px;top:797px;width:42px"><b>XXL</b></div><div class="rl hm" style="top:841px">184 CM</div><div class="c s3" style="left:155px;top:841px;width:42px"><b>S</b></div><div class="c s3" style="left:200px;top:841px;width:42px"><b>S</b></div><div class="c s3" style="left:245px;top:841px;width:42px"><b>S</b></div><div class="c s3" style="left:290px;top:841px;width:42px"><b>S</b></div><div class="c s3" style="left:335px;top:841px;width:42px"><b>S</b></div><div class="c s3" style="left:380px;top:841px;width:42px"><b>S</b></div><div class="c s3" style="left:425px;top:841px;width:43px"><b>S</b></div><div class="c s3" style="left:471px;top:841px;width:42px"><b>S</b></div><div class="c s3" style="left:516px;top:841px;width:42px"><b>S</b></div><div class="c s4" style="left:561px;top:841px;width:42px"><b>M</b></div><div class="c s4" style="left:606px;top:841px;width:42px"><b>M</b></div><div class="c s4" style="left:651px;top:841px;width:42px"><b>M</b></div><div class="c s4" style="left:696px;top:841px;width:42px"><b>M</b></div><div class="c s4" style="left:741px;top:841px;width:42px"><b>M</b></div><div class="c s4" style="left:786px;top:841px;width:42px"><b>M</b></div><div class="c s4" style="left:831px;top:841px;width:42px"><b>M</b></div><div class="c s5" style="left:876px;top:841px;width:42px"><b>L</b></div><div class="c s5" style="left:921px;top:841px;width:42px"><b>L</b></div><div class="c s5" style="left:966px;top:841px;width:43px"><b>L</b></div><div class="c s5" style="left:1012px;top:841px;width:42px"><b>L</b></div><div class="c s5" style="left:1057px;top:841px;width:42px"><b>L</b></div><div class="c s5" style="left:1102px;top:841px;width:42px"><b>L</b></div><div class="c s6" style="left:1147px;top:841px;width:42px"><b>XL</b></div><div class="c s6" style="left:1192px;top:841px;width:42px"><b>XL</b></div><div class="c s6" style="left:1237px;top:841px;width:42px"><b>XL</b></div><div class="c s6" style="left:1282px;top:841px;width:42px"><b>XL</b></div><div class="c s6" style="left:1327px;top:841px;width:42px"><b>XL</b></div><div class="c s6" style="left:1372px;top:841px;width:42px"><b>XL</b></div><div class="c s6" style="left:1417px;top:841px;width:42px"><b>XL</b></div><div class="c s6" style="left:1462px;top:841px;width:42px"><b>XL</b></div><div class="c s6" style="left:1507px;top:841px;width:43px"><b>XL</b></div><div class="c s6" style="left:1553px;top:841px;width:42px"><b>XL</b></div><div class="c s6" style="left:1598px;top:841px;width:42px"><b>XL</b></div><div class="c s7" style="left:1643px;top:841px;width:42px"><b>XXL</b></div><div class="c s7" style="left:1688px;top:841px;width:42px"><b>XXL</b></div><div class="c s7" style="left:1733px;top:841px;width:42px"><b>XXL</b></div><div class="rl hd" style="top:885px">186 CM</div><div class="c s3" style="left:155px;top:885px;width:42px"><b>S</b></div><div class="c s3" style="left:200px;top:885px;width:42px"><b>S</b></div><div class="c s3" style="left:245px;top:885px;width:42px"><b>S</b></div><div class="c s3" style="left:290px;top:885px;width:42px"><b>S</b></div><div class="c s3" style="left:335px;top:885px;width:42px"><b>S</b></div><div class="c s3" style="left:380px;top:885px;width:42px"><b>S</b></div><div class="c s3" style="left:425px;top:885px;width:43px"><b>S</b></div><div class="c s3" style="left:471px;top:885px;width:42px"><b>S</b></div><div class="c s3" style="left:516px;top:885px;width:42px"><b>S</b></div><div class="c s4" style="left:561px;top:885px;width:42px"><b>M</b></div><div class="c s4" style="left:606px;top:885px;width:42px"><b>M</b></div><div class="c s4" style="left:651px;top:885px;width:42px"><b>M</b></div><div class="c s4" style="left:696px;top:885px;width:42px"><b>M</b></div><div class="c s4" style="left:741px;top:885px;width:42px"><b>M</b></div><div class="c s4" style="left:786px;top:885px;width:42px"><b>M</b></div><div class="c s4" style="left:831px;top:885px;width:42px"><b>M</b></div><div class="c s5" style="left:876px;top:885px;width:42px"><b>L</b></div><div class="c s5" style="left:921px;top:885px;width:42px"><b>L</b></div><div class="c s5" style="left:966px;top:885px;width:43px"><b>L</b></div><div class="c s5" style="left:1012px;top:885px;width:42px"><b>L</b></div><div class="c s5" style="left:1057px;top:885px;width:42px"><b>L</b></div><div class="c s5" style="left:1102px;top:885px;width:42px"><b>L</b></div><div class="c s6" style="left:1147px;top:885px;width:42px"><b>XL</b></div><div class="c s6" style="left:1192px;top:885px;width:42px"><b>XL</b></div><div class="c s6" style="left:1237px;top:885px;width:42px"><b>XL</b></div><div class="c s6" style="left:1282px;top:885px;width:42px"><b>XL</b></div><div class="c s6" style="left:1327px;top:885px;width:42px"><b>XL</b></div><div class="c s6" style="left:1372px;top:885px;width:42px"><b>XL</b></div><div class="c s6" style="left:1417px;top:885px;width:42px"><b>XL</b></div><div class="c s6" style="left:1462px;top:885px;width:42px"><b>XL</b></div><div class="c s6" style="left:1507px;top:885px;width:43px"><b>XL</b></div><div class="c s6" style="left:1553px;top:885px;width:42px"><b>XL</b></div><div class="c s6" style="left:1598px;top:885px;width:42px"><b>XL</b></div><div class="c s7" style="left:1643px;top:885px;width:42px"><b>XXL</b></div><div class="c s7" style="left:1688px;top:885px;width:42px"><b>XXL</b></div><div class="c s7" style="left:1733px;top:885px;width:42px"><b>XXL</b></div><div class="rl hm" style="top:929px">188 CM</div><div class="c s3" style="left:155px;top:929px;width:42px"><b>S</b></div><div class="c s3" style="left:200px;top:929px;width:42px"><b>S</b></div><div class="c s3" style="left:245px;top:929px;width:42px"><b>S</b></div><div class="c s3" style="left:290px;top:929px;width:42px"><b>S</b></div><div class="c s3" style="left:335px;top:929px;width:42px"><b>S</b></div><div class="c s3" style="left:380px;top:929px;width:42px"><b>S</b></div><div class="c s3" style="left:425px;top:929px;width:43px"><b>S</b></div><div class="c s3" style="left:471px;top:929px;width:42px"><b>S</b></div><div class="c s3" style="left:516px;top:929px;width:42px"><b>S</b></div><div class="c s4" style="left:561px;top:929px;width:42px"><b>M</b></div><div class="c s4" style="left:606px;top:929px;width:42px"><b>M</b></div><div class="c s4" style="left:651px;top:929px;width:42px"><b>M</b></div><div class="c s4" style="left:696px;top:929px;width:42px"><b>M</b></div><div class="c s4" style="left:741px;top:929px;width:42px"><b>M</b></div><div class="c s4" style="left:786px;top:929px;width:42px"><b>M</b></div><div class="c s4" style="left:831px;top:929px;width:42px"><b>M</b></div><div class="c s5" style="left:876px;top:929px;width:42px"><b>L</b></div><div class="c s5" style="left:921px;top:929px;width:42px"><b>L</b></div><div class="c s5" style="left:966px;top:929px;width:43px"><b>L</b></div><div class="c s5" style="left:1012px;top:929px;width:42px"><b>L</b></div><div class="c s5" style="left:1057px;top:929px;width:42px"><b>L</b></div><div class="c s6" style="left:1102px;top:929px;width:42px"><b>XL</b></div><div class="c s6" style="left:1147px;top:929px;width:42px"><b>XL</b></div><div class="c s6" style="left:1192px;top:929px;width:42px"><b>XL</b></div><div class="c s6" style="left:1237px;top:929px;width:42px"><b>XL</b></div><div class="c s6" style="left:1282px;top:929px;width:42px"><b>XL</b></div><div class="c s6" style="left:1327px;top:929px;width:42px"><b>XL</b></div><div class="c s6" style="left:1372px;top:929px;width:42px"><b>XL</b></div><div class="c s6" style="left:1417px;top:929px;width:42px"><b>XL</b></div><div class="c s6" style="left:1462px;top:929px;width:42px"><b>XL</b></div><div class="c s6" style="left:1507px;top:929px;width:43px"><b>XL</b></div><div class="c s6" style="left:1553px;top:929px;width:42px"><b>XL</b></div><div class="c s6" style="left:1598px;top:929px;width:42px"><b>XL</b></div><div class="c s7" style="left:1643px;top:929px;width:42px"><b>XXL</b></div><div class="c s7" style="left:1688px;top:929px;width:42px"><b>XXL</b></div><div class="c s7" style="left:1733px;top:929px;width:42px"><b>XXL</b></div><div class="rl hd" style="top:973px">190 CM</div><div class="c s3" style="left:155px;top:973px;width:42px"><b>S</b></div><div class="c s3" style="left:200px;top:973px;width:42px"><b>S</b></div><div class="c s3" style="left:245px;top:973px;width:42px"><b>S</b></div><div class="c s3" style="left:290px;top:973px;width:42px"><b>S</b></div><div class="c s3" style="left:335px;top:973px;width:42px"><b>S</b></div><div class="c s3" style="left:380px;top:973px;width:42px"><b>S</b></div><div class="c s3" style="left:425px;top:973px;width:43px"><b>S</b></div><div class="c s3" style="left:471px;top:973px;width:42px"><b>S</b></div><div class="c s3" style="left:516px;top:973px;width:42px"><b>S</b></div><div class="c s4" style="left:561px;top:973px;width:42px"><b>M</b></div><div class="c s4" style="left:606px;top:973px;width:42px"><b>M</b></div><div class="c s4" style="left:651px;top:973px;width:42px"><b>M</b></div><div class="c s4" style="left:696px;top:973px;width:42px"><b>M</b></div><div class="c s4" style="left:741px;top:973px;width:42px"><b>M</b></div><div class="c s4" style="left:786px;top:973px;width:42px"><b>M</b></div><div class="c s4" style="left:831px;top:973px;width:42px"><b>M</b></div><div class="c s5" style="left:876px;top:973px;width:42px"><b>L</b></div><div class="c s5" style="left:921px;top:973px;width:42px"><b>L</b></div><div class="c s5" style="left:966px;top:973px;width:43px"><b>L</b></div><div class="c s5" style="left:1012px;top:973px;width:42px"><b>L</b></div><div class="c s5" style="left:1057px;top:973px;width:42px"><b>L</b></div><div class="c s6" style="left:1102px;top:973px;width:42px"><b>XL</b></div><div class="c s6" style="left:1147px;top:973px;width:42px"><b>XL</b></div><div class="c s6" style="left:1192px;top:973px;width:42px"><b>XL</b></div><div class="c s6" style="left:1237px;top:973px;width:42px"><b>XL</b></div><div class="c s6" style="left:1282px;top:973px;width:42px"><b>XL</b></div><div class="c s6" style="left:1327px;top:973px;width:42px"><b>XL</b></div><div class="c s6" style="left:1372px;top:973px;width:42px"><b>XL</b></div><div class="c s6" style="left:1417px;top:973px;width:42px"><b>XL</b></div><div class="c s6" style="left:1462px;top:973px;width:42px"><b>XL</b></div><div class="c s6" style="left:1507px;top:973px;width:43px"><b>XL</b></div><div class="c s6" style="left:1553px;top:973px;width:42px"><b>XL</b></div><div class="c s6" style="left:1598px;top:973px;width:42px"><b>XL</b></div><div class="c s7" style="left:1643px;top:973px;width:42px"><b>XXL</b></div><div class="c s7" style="left:1688px;top:973px;width:42px"><b>XXL</b></div><div class="c s7" style="left:1733px;top:973px;width:42px"><b>XXL</b></div>
<div class="g" style="left:1144px;top:1104px;width:633px;height:56px"></div>
<div class="lg s1" style="left:1147px">XXS</div><div class="lg s2" style="left:1237px">XS</div><div class="lg s3" style="left:1327px">S</div><div class="lg s4" style="left:1417px">M</div><div class="lg s5" style="left:1507px">L</div><div class="lg s6" style="left:1597px">XL</div><div class="lg s7" style="left:1687px">XXL</div>
<div class="t" id="title" style="left:763px;top:56px;font-size:36px;letter-spacing:-0.75px;word-spacing:3.4px;">BEDEN ÖLCÜ TABLOSU</div>
<div class="t" id="kg" style="left:157px;top:1122px;font-size:33px;"><span style="letter-spacing:-0.85px">BEDEN AĞIRLIĞI -</span> <span style="letter-spacing:2.1px">Kilogram</span></div>
<div class="t" id="boy" style="left:29px;top:1016px;font-size:33px;transform-origin:0 0;transform:rotate(-90deg);"><span style="letter-spacing:-1.3px">BOY UZUNLUĞU</span> <span style="margin-left:5px">-</span> <span style="letter-spacing:1.9px;margin-left:5px">Santimetre</span></div>
<div style="position:absolute;left:50px;top:60px;width:80px;height:90px"><svg viewBox="0 0 1131 1272" width="100%" height="100%">
<path d="M150,212 C152,172 195,160 260,160 C480,168 722,360 797,590" fill="none" stroke="#49ade3" stroke-width="14"/>
<path d="M190,178 C420,160 745,385 810,692 C650,630 480,632 390,665 C330,470 270,300 190,178 Z" fill="#0b4f90"/>
<path d="M330,760 C420,650 650,622 800,745 C660,880 540,1060 440,1175 C380,1195 300,1150 285,1060 C270,960 270,850 330,760 Z" fill="#13a5e6" stroke="#fff" stroke-width="18" paint-order="stroke"/>
<path d="M935,640 C905,820 780,960 600,1065 C660,985 760,880 830,790 C880,730 920,690 935,640 Z" fill="#0b4f90"/>
<path d="M862,300 C945,360 955,520 848,690" fill="none" stroke="#2c9fd8" stroke-width="20"/>
<circle cx="840" cy="272" r="40" fill="#2c9fd8"/>
</svg></div>
<div style="position:absolute;left:744.5px;top:1095px;width:72.4px;height:81.5px"><svg viewBox="0 0 1131 1272" width="100%" height="100%">
<path d="M150,212 C152,172 195,160 260,160 C480,168 722,360 797,590" fill="none" stroke="#49ade3" stroke-width="14"/>
<path d="M190,178 C420,160 745,385 810,692 C650,630 480,632 390,665 C330,470 270,300 190,178 Z" fill="#0b4f90"/>
<path d="M330,760 C420,650 650,622 800,745 C660,880 540,1060 440,1175 C380,1195 300,1150 285,1060 C270,960 270,850 330,760 Z" fill="#13a5e6" stroke="#fff" stroke-width="18" paint-order="stroke"/>
<path d="M935,640 C905,820 780,960 600,1065 C660,985 760,880 830,790 C880,730 920,690 935,640 Z" fill="#0b4f90"/>
<path d="M862,300 C945,360 955,520 848,690" fill="none" stroke="#2c9fd8" stroke-width="20"/>
<circle cx="840" cy="272" r="40" fill="#2c9fd8"/>
</svg></div>
<svg style="position:absolute;left:695px;top:1100px" width="150" height="120" viewBox="0 0 1590 1272">
<defs><clipPath id="nc"><rect x="0" y="600" width="1590" height="565"/></clipPath></defs><g fill="none" stroke="#0f4f94" stroke-width="92" clip-path="url(#nc)">
<path d="M75,1165 V715 H185 L410,975 V715 H500 V1120 Q500,1165 462,1165 Q440,1165 420,1140 L165,835 V1165 Z" fill="#0f4f94" stroke="none"/>
<path d="M575,715 V930 A190,190 0 0 0 955,930 V715"/>
<path d="M1135,1165 V760 H1305 A90,90 0 0 1 1305,940 H1180 M1270,940 L1430,1165"/>
</g></svg>
<svg style="position:absolute;left:835px;top:1120px" width="220" height="100" viewBox="835 1120 220 100">
<path d="M845,1207 L860.2,1167.5 Q861.5,1166 863,1166 L1043,1166 Q1046,1166 1046,1169 L1046.5,1208 Q1046.5,1211 1043.5,1211 L846,1211 Q843.5,1210.5 846,1207 Z" fill="#1b9ce0"/>
<text x="865.5" y="1204.5" font-family="Liberation Sans" font-weight="bold" font-size="36" fill="#fff" stroke="#fff" stroke-width="1" letter-spacing="1.6">MEDICAL</text>
<g transform="translate(857,1165.5) scale(1,1.15) translate(-857,-1165.5)"><text x="857" y="1165.5" font-family="Liberation Serif" font-weight="bold" font-style="italic" font-size="39" fill="#fff" stroke="#fff" stroke-width="5" letter-spacing="2.6">textile</text><text x="857" y="1165.5" font-family="Liberation Serif" font-weight="bold" font-style="italic" font-size="39" fill="#7b3f9a" stroke="#7b3f9a" stroke-width="1" letter-spacing="2.6">textile</text></g>
</svg>
</body></html>
